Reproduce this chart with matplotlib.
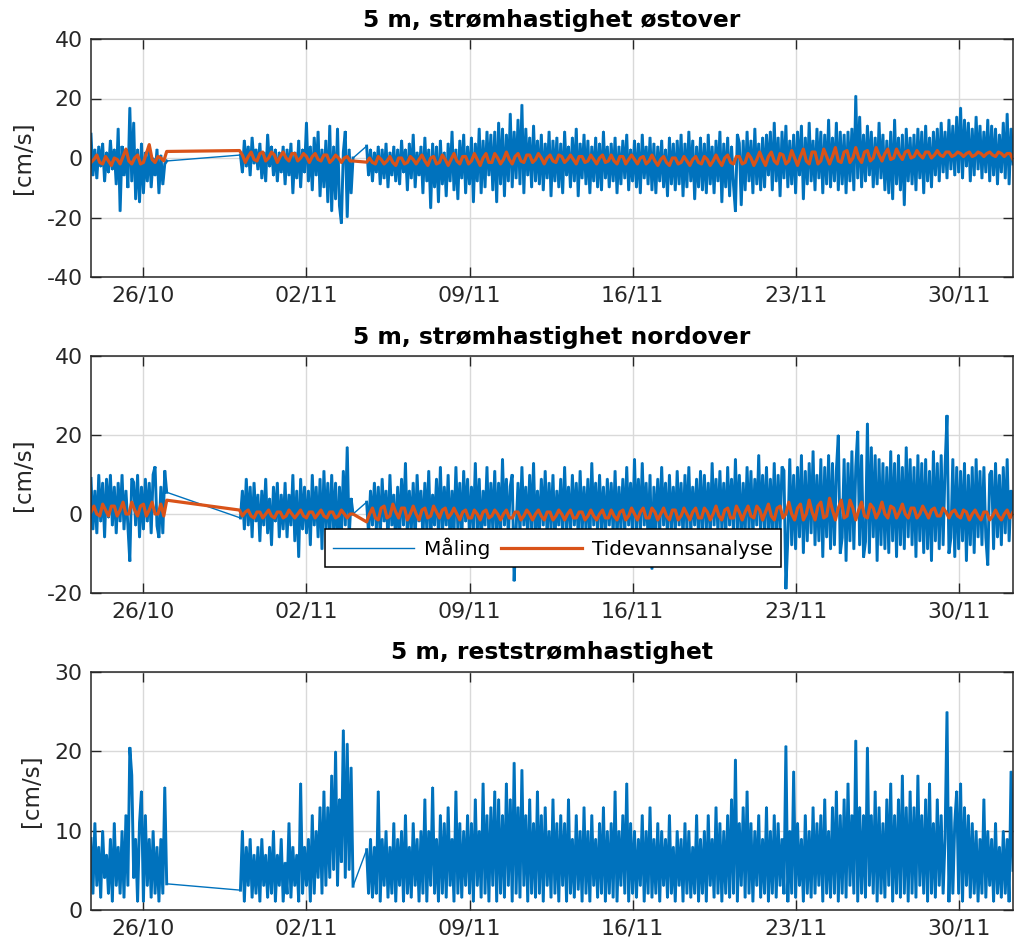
import numpy as np
import pandas as pd
import matplotlib
matplotlib.use('Agg')
import matplotlib.pyplot as plt

plt.rcParams['axes.unicode_minus'] = False

BLUE = '#0072BD'
ORANGE = '#D95319'

# ---------------- data ----------------
meas_starts = ['2020-10-23 18:00', '2020-10-30 04:00', '2020-11-04 14:00']
tide_starts = ['2020-10-23 18:00', '2020-10-30 03:00', '2020-11-04 14:00']
meas_step = '2h'
tide_step = '3h'

east_A = [8, -6, 3,
          -7, 4, -3, 5, -8, 2, -5, 6, -4, 3, -9, 10,
          -18, 4, -6, 3, -10, 17, -8, 12, -14, 3, -15, 5,
          -12, 2, -8, 4, -10, 0, -6, 3, -12, 1, -9, -2,
          -1]
east_B = [1, -5, 6, -3, 4, -6, 7, -2, 3, -4,
          5, -7, 2, -8, 8, -3, 4, -6, 3, -8, 2, -5,
          4, -9, 3, -6, 5, -12, 2, -7, 6, -10, 3, -5,
          12, -8, 4, -11, 7, -6, 9, -13, 3, -10, 6, -15,
          11, -18, 4, -14, 10, -16, -22, 2, 9, -20, 3, -12,
          0]
east_C = [4, -6, 3, -8, 2,
          -5, 4, -9, 3, -7, 5, -10, 2, -6, 4, -8, 3,
          -9, 6, -5, 3, -11, 5, -7, 8, -10, 2, -6, 4,
          -12, 7, -8, 3, -17, 5, -10, 4, -15, 6, -9, 2,
          -13, 5, -8, 9, -11, 3, -14, 6, -7, 8, -12, 4,
          -9, 7, -15, 5, -8, 10, -12, 6, -10, 9, -6, 8,
          -11, 9, -15, 12, -9, 10, -13, 8, -8, 15, -10, 9,
          -7, 13, -9, 18, -12, 10, -6, 7, -10, 11, -8, 6,
          -9, 8, -11, 5, -7, 9, -13, 6, -8, 7, -10, 5,
          -12, 9, -6, 4, -10, 7, -8, 10, -13, 5, -7, 8,
          -9, 6, -12, 4, -8, 7, -10, 5, -11, 9, -7, 4,
          -10, 5, -8, 7, -12, 4, -9, 6, -7, 8, -11, 3,
          -8, 6, -10, 5, -12, 8, -7, 4, -9, 7, -11, 5,
          -12, 4, -8, 6, -10, 3, -13, 7, -9, 5, -11, 6,
          -9, 8, -13, 5, -10, 9, -8, 6, -14, 4, -10, 7,
          -11, 5, -12, 8, -9, 4, -12, 6, -8, 9, -15, 5,
          -10, 7, -13, 4, -9, -18, 8, 5, -16, 6, -11, 9,
          -8, 6, -12, 10, -9, 5, -11, 7, -10, 8, -6, 9,
          -11, 12, -8, 7, -13, 9, -7, 11, -10, 6, -9, 8,
          -12, 9, -6, 11, -14, 7, -9, 12, -8, 6, -11, 10,
          -7, 9, -12, 8, -9, 13, -10, 7, -8, 12, -11, 9,
          -9, 8, -12, 9, -8, 10, -11, 21, -7, 14, -10, 8,
          -8, 11, -6, 9, -10, 7, -9, 12, -7, 8, -11, 6,
          -12, 9, -14, 13, -9, 7, -11, 8, -16, 10, -8, 7,
          -9, 8, -11, 10, -7, 9, -12, 11, -8, 7, -10, 9,
          -6, 10, -8, 12, -5, 9, -7, 13, -4, 11, -6, 14,
          -5, 17, -7, 13, -3, 12, -8, 10, -6, 14, -4, 11,
          -7, 9, -5, 13, -8, 11, -6, 10, -9, 8, -5, 12,
          -7, 15, -9, 10, -2]

east_tide_A = [-1.5, -0.5, 1.0, -1.5, -2.0, 0.5, -1.0, -2.5, 0.0, -0.5, -2.0, 0.5, 3.0, -1.0,
               -2.0, 0.0, 1.0, -2.0, -1.5, 1.5, 4.5, -0.5, -1.5, 0.5, 0.0, -1.0, 2.2]
east_tide_B = [2.5, 1.0, -1.5, 0.5, 2.0, -0.5, -1.0, 1.5, 2.0, -1.0, 0.0, 2.0, 1.0, -1.5,
               0.5, 2.0, 0.0, -1.0, 1.5, 1.5, -1.0, 0.0, 1.5, 0.5, -1.5, 0.5, 1.5, -0.5,
               -1.0, 1.0, 1.0, -1.5, -0.5, 1.0, 0.0, -1.5, 0.0, 0.5, -1.0, -1.0]
east_tide_C = [-1.4, 0.0, -1.5, -2.0,
               0.5, -0.5, -2.0, -1.0, 0.5, -1.5, -2.5, 0.0,
               0.0, -2.0, -1.5, 0.5, -0.5, -2.0, -0.5, 1.0,
               -1.0, -2.5, 0.0, 0.5, -2.0, -1.5, 1.0, -0.5,
               -2.5, -0.5, 1.5, -1.0, -2.0, 0.5, 0.5, -2.0,
               -1.0, 1.5, -0.5, -2.5, 0.0, 1.5, -1.5, -1.5,
               1.5, 0.0, -2.0, -0.5, 2.0, -0.5, -2.0, 0.5,
               1.5, -1.0, -1.5, 1.0, 1.0, -1.5, -0.5, 1.5,
               0.0, -2.0, 0.0, 1.0, -1.0, -1.5, 1.0, 0.5,
               -1.5, -0.5, 1.0, -0.5, -2.0, 0.5, 0.5, -1.5,
               -1.0, 1.0, -0.5, -2.0, 0.0, 1.0, -1.5, -1.0,
               1.0, -1.0, -2.0, 0.5, 0.5, -2.0, -0.5, 1.0,
               -0.5, -2.0, 0.0, 0.5, -2.0, -1.0, 1.0, -1.0,
               -2.5, -0.5, 0.5, -1.5, -2.5, 0.0, 0.0, -2.0,
               -1.5, 0.5, -1.0, -2.5, -0.5, 0.5, -1.5, -2.0,
               0.5, -0.5, -2.5, -1.0, 1.0, -1.0, -2.5, 0.0,
               1.0, -1.5, -2.0, 0.5, 0.5, -2.0, -1.5, 1.5,
               0.0, -2.5, -0.5, 2.0, -0.5, -2.5, 0.5, 2.0,
               -1.0, -2.0, 1.5, 1.0, -2.0, -1.0, 2.5, 0.0,
               -2.5, 0.5, 3.0, -1.0, -2.0, 2.0, 2.0, -2.0,
               -1.0, 3.0, 0.5, -2.0, 0.5, 3.5, -1.0, -1.5,
               2.0, 2.5, -1.5, 0.0, 3.5, 0.0, -1.5, 2.0,
               2.5, -1.0, 0.0, 3.5, 1.0, -1.0, 1.5, 3.0,
               -0.5, 0.0, 3.0, 1.0, -0.5, 2.0, 2.5, 0.0,
               0.5, 2.5, 1.0, 0.0, 2.0, 2.0, 0.0, 1.0,
               2.5, 1.0, 0.5, 2.0, 2.0, 0.5, 1.0, 2.0,
               1.5, 0.5, 1.5, 2.0, 0.5, 1.0, 2.0, 1.5,
               0.5, 1.5, 2.0, 1.0, 0.5, 2.0, 1.5, 0.5,
               1.5, 1.5, -0.5]

north_A = [9, -4, 6,
           -5, 10, -2, 8, -6, 9, -1, 10, -3, 7, -5, 8,
           -2, 10, -4, 6, -3, -12, 9, 8, -3, 10, -6, 7,
           -4, 9, -2, 8, -5, 10, 12, -3, -6, 7, -5, 11,
           5.5]
north_B = [-1, 6, -4, 9, -3, 7, -6, 8, -2, 5,
           -7, 6, -3, 9, -5, 4, -8, 7, -2, 8, -6, 5,
           -4, 8, -6, 5, -3, 10, -7, 6, -11, 9, -4, 7,
           -5, 6, -8, 10, -3, 7, -6, 9, -9, 11, -4, 8,
           -7, 10, -4, 8, -10, 7, -5, 11, -3, 17, -6, 4,
           0]
north_C = [3, -5, 6, -3, 8,
           -4, 7, -6, 9, -2, 6, -7, 10, -3, 5, -8, 7,
           -5, 9, -3, 13, -6, 6, -4, 8, -7, 10, -2, 6,
           -6, 8, -4, 11, -7, 5, -3, 9, -5, 12, -6, 7,
           -3, 10, -8, 6, -5, 12, -4, 8, -7, 11, -2, 9,
           -6, 7, -4, 13, -5, 9, -8, 6, -3, 12, -6, 8,
           -4, 11, -7, 8, -5, 14, -3, 9, -6, 7, 10, -17,
           -4, 8, -5, 12, -3, 7, -6, 10, -4, 13, -7, 6,
           -5, 9, -3, 11, -6, 8, -4, 10, -7, 6, -3, 9,
           -6, 12, -4, 7, -5, 10, -3, 8, -6, 11, -5, 7,
           -4, 9, -7, 13, -3, 8, -5, 10, -4, 7, -6, 9,
           -3, 8, -5, 11, -6, 7, -4, 9, -5, 12, -3, 8,
           -6, 14, -4, 9, -5, 13, -3, 8, -7, 10, -14, 7,
           -4, 9, -5, 12, -3, 8, -6, 10, -4, 7, -5, 11,
           -3, 8, -6, 10, -4, 12, -5, 7, -3, 9, -6, 11,
           -5, 10, -4, 8, -6, 13, -3, 9, -5, 11, -4, 8,
           -6, 12, -3, 9, -5, 14, -4, 10, -7, 8, -5, 12,
           -4, 11, -6, 9, -3, 15, -5, 10, -4, 12, -6, 9,
           -5, 13, -7, 10, -4, 12, 11, -19, -6, 14, -8, 10,
           -9, 12, -6, 15, -10, 11, -7, 13, -5, 16, -8, 10,
           -7, 14, -11, 12, -6, 15, -9, 13, -8, 11, 20, -10,
           -6, 14, -12, 13, -7, 16, -9, 12, 21, -8, 15, -11,
           -7, 23, -10, 17, -6, 15, -12, 14, -8, 13, -9, 12,
           -10, 16, -7, 13, -11, 15, -8, 12, -9, 17, -6, 14,
           -8, 12, -11, 15, -7, 13, -10, 14, -9, 11, -12, 16,
           -7, 13, -9, 15, -8, 12, 25, -10, -6, 14, -11, 12,
           -9, 11, -7, 13, -12, 10, -8, 12, -10, 14, -6, 11,
           -8, 12, -6, -13, 10, 11, -9, 13, -6, 10, -8, 12,
           -5, 14, -7, 6, 1]

north_tide_A = [0.5, 2.0, 0.0, -0.5, 2.5, 1.0, -0.5, 2.0, 2.0, -0.5, 1.0, 3.0, 0.0, 0.0,
                3.0, 1.0, -0.5, 2.0, 2.5, -0.5, 1.0, 3.0, 0.0, 0.0, 2.5, -0.5, 3.5]
north_tide_B = [1.0, -0.5, 0.5, 1.0, -0.5, -1.0, 0.5, 0.5, -1.0, 0.0, 1.0, -0.5, -1.0, 0.5,
                0.5, -1.0, -0.5, 1.0, 0.0, -1.0, 0.0, 1.0, -0.5, -1.0, 0.5, 0.5, -1.0, 0.0,
                1.0, -0.5, -1.0, 0.5, 0.5, -1.0, -0.5, 1.0, 0.0, -1.0, 0.0, 0.0]
north_tide_C = [-2.0, 0.0, 1.5, -1.0,
                -1.5, 1.5, 2.0, -1.0, -0.5, 2.5, 0.5, -1.0,
                1.5, 1.5, -1.5, 0.0, 2.0, 0.0, -1.5, 1.0,
                1.5, -1.0, -0.5, 2.0, 0.5, -1.0, 1.0, 1.5,
                -1.0, 0.0, 1.5, 0.0, -1.5, 0.5, 1.0, -1.0,
                -1.0, 1.0, 0.0, -1.5, 0.5, 1.0, -1.0, -0.5,
                1.0, 0.0, -1.5, 0.0, 1.0, -1.0, -1.0, 0.5,
                0.5, -1.5, -0.5, 1.0, 0.0, -1.5, 0.0, 1.0,
                -0.5, -1.5, 0.5, 0.5, -1.5, -0.5, 1.0, 0.0,
                -1.5, 0.0, 1.0, -1.0, -1.0, 0.5, 0.5, -1.5,
                -0.5, 1.0, -0.5, -1.5, 0.0, 1.0, -1.0, -1.0,
                1.0, -0.5, -1.5, 0.5, 1.0, -1.5, -0.5, 1.5,
                0.0, -1.5, 0.5, 1.5, -1.0, -1.0, 1.5, 0.5,
                -1.5, 0.0, 1.5, -0.5, -1.5, 1.0, 1.0, -1.5,
                -0.5, 1.5, 0.0, -1.5, 0.5, 1.5, -1.0, -1.0,
                1.5, 0.5, -1.5, 0.0, 2.0, -0.5, -1.5, 1.0,
                1.5, -1.0, -1.0, 2.0, 0.5, -1.5, 0.5, 2.0,
                -0.5, -1.0, 2.0, 1.0, -1.5, 0.5, 2.5, -0.5,
                -1.5, 1.5, 2.0, -1.0, 0.0, 3.0, 0.0, -1.5,
                1.5, 2.5, -1.5, 0.0, 3.5, 0.5, -1.5, 2.0,
                3.0, -1.0, -0.5, 4.0, 1.0, -1.5, 1.5, 3.5,
                -1.0, -0.5, 3.5, 1.5, -1.5, 1.0, 3.0, -0.5,
                -1.0, 2.5, 1.5, -1.0, 0.5, 3.0, 0.0, -1.0,
                2.0, 1.5, -1.0, 0.5, 2.5, 0.0, -1.0, 1.5,
                1.5, -1.0, 0.0, 2.0, 0.5, -1.0, 1.0, 1.5,
                -0.5, -0.5, 1.5, 0.5, -1.0, 0.5, 1.0, -0.5,
                -1.0, 1.0, 0.5, -1.5, 0.0, 1.0, -0.5, -1.5,
                0.5, 0.5, -1.5, -0.5, 1.0, -0.5, -1.5, 0.0,
                1.0, -1.0, 0.5]

speed_A = [9, 2, 11,
           3, 8, 1.5, 10, 4, 7, 2, 9, 1, 11, 3, 8,
           2, 10, 1.5, 12, 3, 20.5, 17, 4, 9, 1, 11, 15,
           1, 12, 3, 9, 1.5, 10, 2, 8, 1, 9, 2, 15.5,
           3.3]
speed_B = [2.5, 10, 1, 8, 3, 9, 1.5, 7, 2, 8,
           1, 9, 3, 7, 1.5, 8, 2, 10, 1, 7, 3, 9,
           1, 6, 2, 11, 1.5, 8, 3, 7, 1, 16, 2, 8,
           3, 9, 1, 12, 2, 10, 4, 13, 2, 15, 3, 13,
           4, 17, 5, 20, 3, 14, 6, 22.7, 4, 21, 5, 18,
           3]
speed_C = [7.6, 2, 9, 1.5, 8,
           2, 15, 1, 9, 3, 10, 1.5, 8, 2, 11, 1, 9,
           3, 10, 1, 12, 2, 8, 1.5, 11, 3, 9, 1, 10,
           2, 14, 1, 10, 3, 15.5, 2, 9, 1, 12, 2, 11,
           1.5, 13, 3, 9, 1, 15, 2, 11, 1.5, 10, 3, 12,
           2, 11, 1, 14, 3, 10, 1.5, 16, 2, 12, 1, 13,
           3, 15, 1, 14, 2, 12, 1.5, 16, 3, 14, 1, 18.6,
           2, 13, 1.5, 17.7, 3, 12, 1, 14, 2, 11, 1.5, 15,
           2, 12, 1, 13, 3, 10, 1.5, 14, 2, 11, 1, 12,
           3, 11, 1, 14, 2, 9, 1.5, 12, 2.5, 10, 1, 13,
           2, 10, 1, 12, 3, 9, 1.5, 11, 2, 13, 1, 10,
           2, 11, 1.5, 15, 1, 10, 3, 12, 2, 16, 1, 11,
           2, 10, 1.5, 9, 3, 12, 1, 10, 2, 13, 1.5, 9,
           2, 11, 1, 10, 3, 9, 1.5, 12, 2, 8, 1, 10,
           3, 9, 1, 11, 2, 10, 1.5, 8, 2, 12, 1, 9,
           2, 10, 1, 12, 3, 9, 1.5, 13, 2, 11, 1, 10,
           2, 12, 1.5, 14, 2, 19, 1, 11, 3, 13, 1.5, 15,
           2, 11, 1, 10, 3, 12, 1.5, 9, 2, 13, 1, 10,
           2, 12, 1.5, 11, 3, 9, 2, 20.7, 1, 10, 2, 17.5,
           1.5, 11, 3, 9, 1, 12, 2, 10, 1.5, 13, 2, 11,
           3, 12, 1, 14, 2, 10, 1.5, 13, 2, 15, 1, 12,
           2, 14, 1.5, 16, 3, 12, 2, 21.4, 1, 13, 2, 12,
           1.5, 20.5, 3, 12, 2, 15, 1, 13, 2, 11, 1.5, 14,
           3, 16, 1, 12, 2, 14, 1.5, 17, 2, 13, 1, 15,
           2, 13, 1.5, 17, 3, 12, 2, 14, 1, 16, 2, 11,
           1.5, 14, 3, 12, 2, 9, 25, 1, 13, 2, 11, 15,
           2, 16, 1, 13, 3, 12, 1.5, 11, 2, 10, 1, 9,
           2, 14, 1.5, 10, 3, 9, 1, 11, 2, 8, 1.5, 10,
           2, 9, 1, 17.5, 5]

titles = ['5 m, strømhastighet østover',
          '5 m, strømhastighet nordover',
          '5 m, reststrømhastighet']
ylims = [(-40, 40), (-20, 40), (0, 30)]
yticks = [[-40, -20, 0, 20, 40], [-20, 0, 20, 40], [0, 10, 20, 30]]
tick_dates = ['2020-10-26', '2020-11-02', '2020-11-09', '2020-11-16', '2020-11-23', '2020-11-30']
tick_labels = ['26/10', '02/11', '09/11', '16/11', '23/11', '30/11']
xlim = ('2020-10-23 18:00', '2020-12-02 08:00')
legend_labels = ['Måling', 'Tidevannsanalyse']


def build(segments, starts, step):
    parts = []
    for seg, st in zip(segments, starts):
        parts.append((pd.date_range(st, periods=len(seg), freq=step),
                      np.array(seg, dtype=float)))
    t = parts[0][0].append([p[0] for p in parts[1:]])
    v = np.concatenate([p[1] for p in parts])
    return t, v, parts


meas = [build([east_A, east_B, east_C], meas_starts, meas_step),
        build([north_A, north_B, north_C], meas_starts, meas_step),
        build([speed_A, speed_B, speed_C], meas_starts, meas_step)]
tide = [build([east_tide_A, east_tide_B, east_tide_C], tide_starts, tide_step),
        build([north_tide_A, north_tide_B, north_tide_C], tide_starts, tide_step),
        None]

# ---------------- figure ----------------
W, H = 1024, 949
fig = plt.figure(figsize=(W / 100, H / 100), dpi=100)
boxes = [(39, 277), (356, 593), (672, 910)]
left, right = 91, 1013
FS = 15.8
DARK = '#262626'

for i in range(3):
    top, bot = boxes[i]
    ax = fig.add_axes([left / W, 1 - bot / H, (right - left) / W, (bot - top) / H])
    tm, vm, parts = meas[i]
    # thin line through the whole record (shows the joins across data gaps)
    l1, = ax.plot(tm, vm, color=BLUE, lw=1.0, label=legend_labels[0])
    # dense measured segments
    for pt, pv in parts:
        ax.plot(pt, pv, color=BLUE, lw=2.1, solid_joinstyle='miter')
    if tide[i] is not None:
        tt, vt, _ = tide[i]
        l2, = ax.plot(tt, vt, color=ORANGE, lw=2.3, label=legend_labels[1])
    ax.set_xlim(pd.Timestamp(xlim[0]), pd.Timestamp(xlim[1]))
    ax.set_ylim(*ylims[i])
    ax.set_yticks(yticks[i])
    ax.set_xticks(pd.to_datetime(tick_dates))
    ax.set_xticklabels(tick_labels)
    ax.grid(True, color='#d9d9d9', lw=1.0)
    ax.set_axisbelow(True)
    ax.tick_params(direction='in', top=True, right=True, length=7, width=1.0,
                   labelsize=FS, colors=DARK, pad=6)
    for s in ax.spines.values():
        s.set_linewidth(1.1)
        s.set_color(DARK)
    ax.set_ylabel('[cm/s]', fontsize=FS + 0.7, color=DARK, labelpad=8)
    ax.set_title(titles[i], fontsize=16.8, fontweight='bold', pad=9)
    if i == 1:
        leg = ax.legend(handles=[l1, l2], labels=legend_labels, loc='lower left',
                        bbox_to_anchor=(0.254, 0.110),
                        ncol=2, fontsize=14.5, frameon=True, fancybox=False,
                        edgecolor='black', framealpha=1, borderaxespad=0,
                        handlelength=4.0, handletextpad=0.5, columnspacing=0.55,
                        borderpad=0.4)
        leg.get_frame().set_linewidth(1.1)

fig.savefig('out.png', dpi=100)
